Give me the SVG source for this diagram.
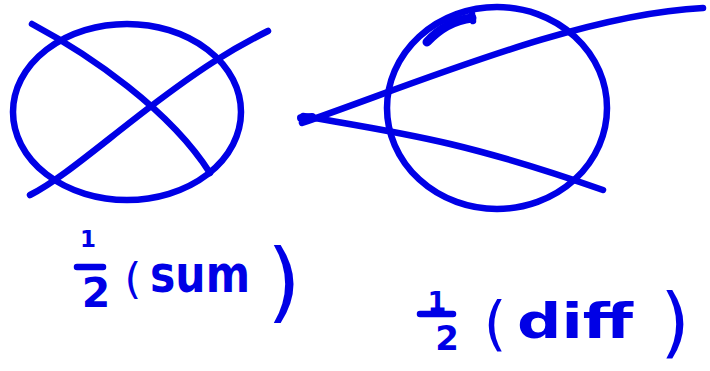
<svg xmlns="http://www.w3.org/2000/svg" width="710" height="371" viewBox="0 0 710 371">
<style>
.ink{fill:none;stroke:#0000e6;stroke-width:6.5;stroke-linecap:round;stroke-linejoin:round}
.t{fill:#0000e6;font-family:"DejaVu Sans",sans-serif;font-weight:bold;text-anchor:middle}
.p{fill:#0000e6;font-family:"DejaVu Sans",sans-serif;font-weight:normal;text-anchor:middle}
</style>
<rect width="710" height="371" fill="#ffffff"/>
<g id="sum-figure">
<ellipse class="ink" cx="127" cy="112" rx="114" ry="88"/>
<path class="ink" d="M32,24 C90,55 170,110 210,173"/>
<path class="ink" d="M30,195 C60,180 100,145 150,107 S230,50 268,31"/>
</g>
<g id="diff-figure">
<ellipse class="ink" cx="497" cy="108" rx="110" ry="101"/>
<path class="ink" d="M427,42 C440,28 455,20 472,18" style="stroke-width:9"/>
<path class="ink" d="M472,14 L473,21"/>
<path class="ink" d="M302,123 C420,82 580,14 703,8"/>
<path class="ink" d="M303,116 C400,133 460,140 603,190"/>
<path class="ink" d="M301,118 L312,117" style="stroke-width:8"/>
</g>
<g id="label-sum">
<text class="t" x="88" y="247" font-size="23">1</text>
<line class="ink" x1="77" y1="267" x2="103" y2="267"/>
<text class="t" x="96" y="307" font-size="41">2</text>
<text class="p" x="133" y="294" font-size="43">(</text>
<text class="t" x="200" y="292" font-size="52" textLength="100" lengthAdjust="spacingAndGlyphs">sum</text>
<text class="p" x="284" y="311" font-size="88">)</text>
</g>
<g id="label-diff">
<text class="t" x="437" y="311" font-size="27">1</text>
<line class="ink" x1="420" y1="314" x2="453" y2="314"/>
<text class="t" x="447" y="350" font-size="34">2</text>
<text class="p" x="495" y="344" font-size="58">(</text>
<text class="t" x="575" y="338" font-size="48" textLength="116" lengthAdjust="spacingAndGlyphs">diff</text>
<text class="p" x="675" y="348" font-size="76">)</text>
</g>
</svg>
